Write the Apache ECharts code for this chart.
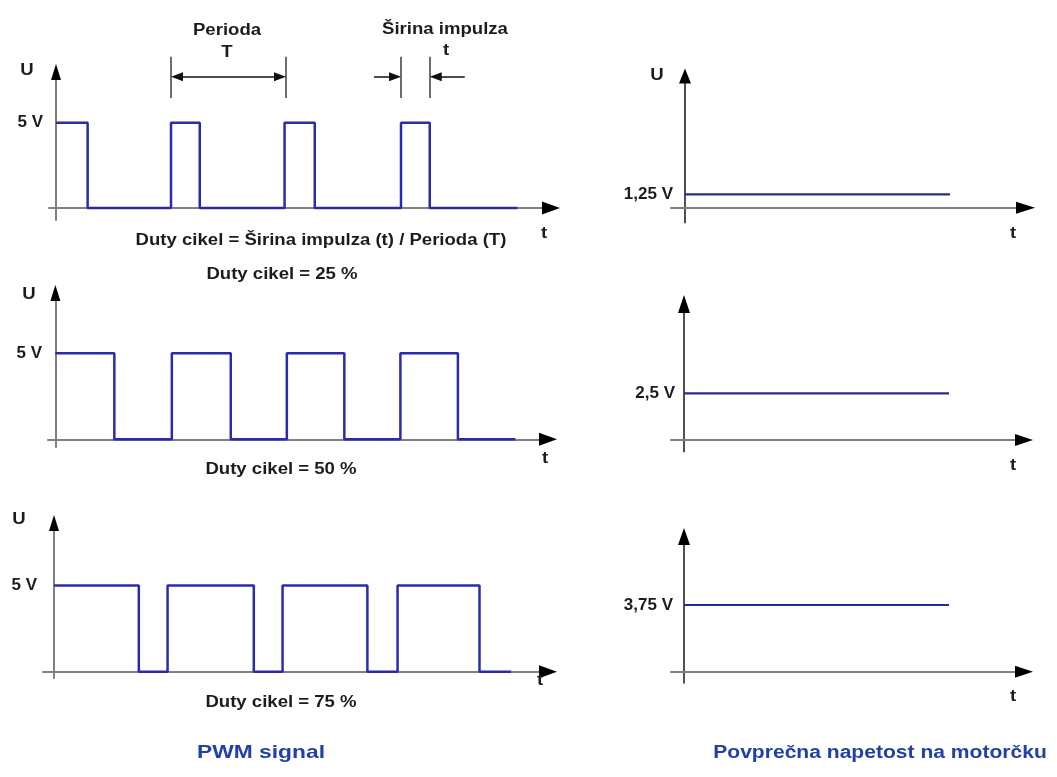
<!DOCTYPE html>
<html><head><meta charset="utf-8">
<script src="https://cdn.jsdelivr.net/npm/echarts@6/dist/echarts.min.js"></script>
<style>html,body{margin:0;padding:0;background:#fff}#c{width:1057px;height:777px}</style>
</head><body><div id="c"></div>
<script>
// ---------- data ----------
const pulseLevel = 5;
const pwm25 = [[0,5],[1.1,5],[1.1,0],[4,0],[4,5],[5,5],[5,0],[7.95,0],[7.95,5],[9,5],[9,0],[12,0],[12,5],[13,5],[13,0],[16.05,0]];
const pwm50 = [[0,5],[2.05,5],[2.05,0],[4.05,0],[4.05,5],[6.1,5],[6.1,0],[8.05,0],[8.05,5],[10.05,5],[10.05,0],[12,0],[12,5],[14,5],[14,0],[16,0]];
const pwm75 = [[0,5],[2.95,5],[2.95,0],[3.95,0],[3.95,5],[6.95,5],[6.95,0],[7.95,0],[7.95,5],[10.9,5],[10.9,0],[11.95,0],[11.95,5],[14.8,5],[14.8,0],[15.9,0]];
const avgVoltages = [1.25, 2.5, 3.75];
const avgSpan = [0, 10];
const periodMarks = [4, 8];
const widthMarks = [12, 13];
const markerSpan = [6.45, 8.87];
const arrowLevel = 7.7;
const tickLabelsLeft = ['5 V', '5 V', '5 V'];
const tickLabelsRight = ['1,25 V', '2,5 V', '3,75 V'];
const dutyLabels = ['Duty cikel = 25 %', 'Duty cikel = 50 %', 'Duty cikel = 75 %'];
const formulaLabel = 'Duty cikel = Širina impulza (t) / Perioda (T)';
const headerLabels = ['Perioda', 'T', 'Širina impulza', 't'];
const titles = ['PWM signal', 'Povprečna napetost na motorčku'];
const axisNameU = 'U';
const axisNameT = 't';

// ---------- layout (pixels) ----------
const layout = [
  {ox:56,   oy:208,   ux:28.75, uy:17.06, xl:49,  xr:551,    yt:72,    yb:220,   ax:[13,18], ay:[10,16], yc:'#808080', yw:2,   lm:6},
  {ox:55.4, oy:439.3, ux:28.75, uy:17.2,  xl:48,  xr:548,    yt:293,   yb:447,   ax:[13,18], ay:[10,16], yc:'#808080', yw:2,   lm:6},
  {ox:54,   oy:671.7, ux:28.75, uy:17.24, xl:43,  xr:548,    yt:523,   yb:678,   ax:[13,18], ay:[10,16], yc:'#808080', yw:2,   lm:6},
  {ox:685,  oy:207.7, ux:26.5,  uy:10.72, xl:671, xr:1025.5, yt:76,    yb:222.7, ax:[12,19], ay:[12,15], yc:'#151515', yw:1.5, lm:-2},
  {ox:684,  oy:440,   ux:26.5,  uy:18.68, xl:671, xr:1024,   yt:304,   yb:451.7, ax:[12,18], ay:[12,18], yc:'#151515', yw:1.5, lm:-4},
  {ox:684,  oy:671.7, ux:26.5,  uy:17.79, xl:671, xr:1024,   yt:536.5, yb:683,   ax:[12,18], ay:[12,17], yc:'#151515', yw:1.5, lm:-2}
];
const pwmSets = [pwm25, pwm50, pwm75];
const FONT = '"Liberation Sans", Arial, sans-serif';
const TXT = '#1c1c1c';

const grid = [], xAxis = [], yAxis = [], series = [];
layout.forEach((p, i) => {
  grid.push({left:p.xl, top:p.yt, width:p.xr - p.xl, height:p.yb - p.yt, containLabel:false, outerBoundsMode:'none'});
  const xmin = (p.xl - p.ox) / p.ux, xmax = (p.xr - p.ox) / p.ux;
  const ymin = -(p.yb - p.oy) / p.uy, ymax = (p.oy - p.yt) / p.uy;
  const bx = {type:'value', gridIndex:i, min:xmin, max:xmax, position:'bottom', axisTick:{show:false}, axisLabel:{show:false}, splitLine:{show:false}};
  xAxis.push(Object.assign({}, bx, {axisLine:{show:true, onZero:true, lineStyle:{color:'#808080', width:2}}}));
  xAxis.push(Object.assign({}, bx, {axisLine:{show:true, onZero:true, symbol:['none','triangle'], symbolSize:p.ax, lineStyle:{color:'#000', width:0}}}));
  const isLeft = i < 3;
  const lv = isLeft ? pulseLevel : avgVoltages[i - 3];
  const lt = isLeft ? tickLabelsLeft[i] : tickLabelsRight[i - 3];
  const by = {type:'value', gridIndex:i, min:ymin, max:ymax, position:'left', axisTick:{show:false}, splitLine:{show:false}};
  yAxis.push(Object.assign({}, by, {
    axisLine:{show:true, onZero:true, lineStyle:{color:p.yc, width:p.yw}},
    axisLabel:{show:true, customValues:[lv], formatter:(v) => (Math.abs(v - lv) < 1e-6 ? lt : ''), margin:p.lm,
      color:TXT, fontSize:17, fontWeight:'bold', fontFamily:FONT}
  }));
  yAxis.push(Object.assign({}, by, {axisLabel:{show:false}, axisLine:{show:true, onZero:true, symbol:['none','triangle'], symbolSize:p.ay, lineStyle:{color:'#000', width:0}}}));
  series.push({
    type:'line', xAxisIndex:2*i, yAxisIndex:2*i, showSymbol:false, symbol:'none', silent:true, z:3,
    data: isLeft ? pwmSets[i] : [[avgSpan[0], lv], [avgSpan[1], lv]],
    lineStyle:{color: isLeft ? '#2b2baa' : '#2b2b8c', width: isLeft ? 2.5 : 2.2}
  });
});

// annotation overlay sharing panel 1's time scale
const p0 = layout[0];
grid.push({left:p0.xl, width:p0.xr - p0.xl, top:p0.oy - 9.5*p0.uy, height:3.5*p0.uy, containLabel:false, outerBoundsMode:'none'});
xAxis.push({type:'value', gridIndex:6, min:(p0.xl - p0.ox)/p0.ux, max:(p0.xr - p0.ox)/p0.ux, show:false});
yAxis.push({type:'value', gridIndex:6, min:6, max:9.5, show:false});
const barStyle = {color:'#6e6e6e', width:2, type:'solid'};
const arrowStyle = {color:'#111', width:1.5, type:'solid'};
const headL = 12, headW = 9, hu = (headL/2)/p0.ux;
const annData = [];
periodMarks.concat(widthMarks).forEach(t => {
  annData.push([{coord:[t, markerSpan[0]], symbol:'none', lineStyle:barStyle}, {coord:[t, markerSpan[1]], symbol:'none'}]);
});
annData.push([{coord:[periodMarks[0] + hu, arrowLevel], symbol:'triangle', symbolSize:[headW, headL], lineStyle:arrowStyle},
              {coord:[periodMarks[1] - hu, arrowLevel], symbol:'triangle', symbolSize:[headW, headL]}]);
annData.push([{coord:[widthMarks[0] - 27/p0.ux, arrowLevel], symbol:'none', lineStyle:arrowStyle},
              {coord:[widthMarks[0] - hu, arrowLevel], symbol:'triangle', symbolSize:[headW, headL]}]);
annData.push([{coord:[widthMarks[1] + 35/p0.ux, arrowLevel], symbol:'none', lineStyle:arrowStyle},
              {coord:[widthMarks[1] + hu, arrowLevel], symbol:'triangle', symbolSize:[headW, headL]}]);
series.push({
  type:'line', xAxisIndex:12, yAxisIndex:12, data:[], showSymbol:false, silent:true,
  markLine:{silent:true, animation:false, label:{show:false}, emphasis:{disabled:true}, symbol:['none','none'], data:annData}
});

// ---------- texts ----------
function txt(text, x, y, size, color, sx) {
  return {type:'text', x:x, y:y, scaleX: sx || 1.16, silent:true, z:10,
    style:{text:text, x:0, y:0, font:'bold ' + size + 'px ' + FONT, fill: color || TXT,
      align:'center', verticalAlign:'middle', textAlign:'center', textVerticalAlign:'middle'}};
}
const graphics = [
  txt(headerLabels[0], 227, 31, 16), txt(headerLabels[1], 227, 53, 16),
  txt(headerLabels[2], 445, 30, 16), txt(headerLabels[3], 446, 51, 16),
  txt(formulaLabel, 321, 241, 16),
  txt(dutyLabels[0], 282, 275, 16), txt(dutyLabels[1], 281, 470, 16), txt(dutyLabels[2], 281, 703, 16),
  txt(axisNameU, 27, 71, 16), txt(axisNameU, 29, 295, 16), txt(axisNameU, 19, 520, 16), txt(axisNameU, 657, 76, 16),
  txt(axisNameT, 544, 234, 16), txt(axisNameT, 545, 459, 16), txt(axisNameT, 540, 681, 16),
  txt(axisNameT, 1013, 234, 16), txt(axisNameT, 1013, 466, 16), txt(axisNameT, 1013, 697, 16),
  txt(titles[0], 261, 753, 19, '#2340a8', 1.2), txt(titles[1], 880, 753, 18, '#2340a8', 1.17)
];

const chart = echarts.init(document.getElementById('c'), null, {renderer:'canvas'});
chart.setOption({
  animation:false, backgroundColor:'#fff',
  grid:grid, xAxis:xAxis, yAxis:yAxis, series:series,
  graphic:{elements:graphics}
});
</script></body></html>
